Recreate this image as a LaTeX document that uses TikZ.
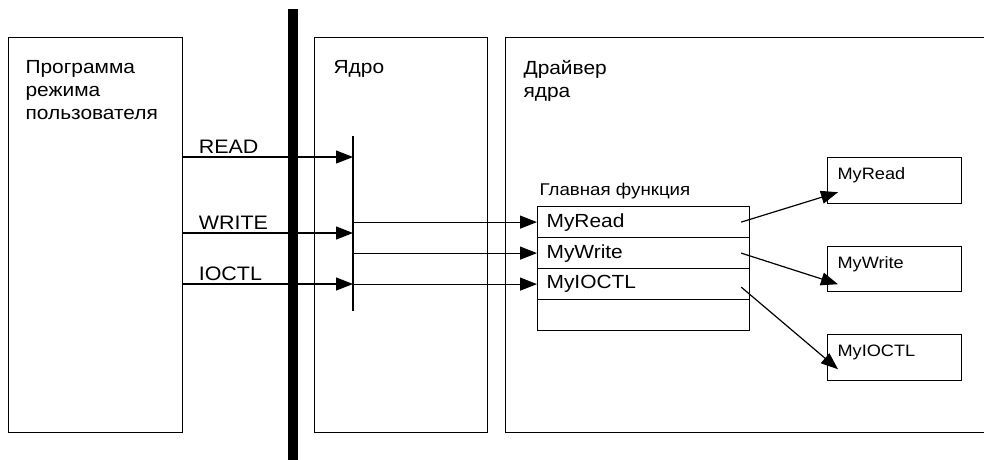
\documentclass[tikz,border=0pt]{standalone}
\usepackage{fontspec}
\setmainfont{Liberation Sans}[FakeStretch=1.1]
\usetikzlibrary{arrows.meta}
\begin{document}
\begin{tikzpicture}[x=1pt,y=-1pt,
  line width=1.2pt,
  frame/.style={draw, anchor=north west, inner sep=0pt},
  heading/.style={anchor=north west, align=left, font=\fontsize{19}{23}\selectfont, inner sep=0pt},
  calllabel/.style={anchor=base west, font=\fontsize{19.5}{22}\selectfont, inner sep=0pt},
  tablerow/.style={draw, anchor=north west, minimum height=31pt, text width=194pt,
    inner xsep=9pt, inner ysep=0pt, align=left, font=\fontsize{19}{22}\selectfont},
  handler/.style={draw, anchor=north west, minimum width=134pt, inner sep=0pt},
  handlertext/.style={anchor=north west, inner sep=0pt, font=\fontsize{16.5}{20}\selectfont, xshift=10pt, yshift=-10pt},
  arr/.style={-{Triangle[length=17pt,width=13pt]}},
]
\useasboundingbox (0,0) rectangle (984,459);
\clip (0,0) rectangle (984,459);

% three columns: user program, kernel, kernel driver
\node[frame, minimum width=174pt, minimum height=395pt] (user) at (8,37) {};
\node[frame, minimum width=173pt, minimum height=395pt] (kernel) at (314,37) {};
\node[frame, minimum width=520pt, minimum height=395pt] (driver) at (505,37) {};

\node[heading] at (25,60) {Программа\\режима\\пользователя};
\node[heading] at (333,60) {Ядро};
\node[heading] at (523,60) {Драйвер\\ядра};

% user/kernel boundary
\node[fill=black, minimum width=10pt, minimum height=452pt, inner sep=0pt, anchor=north] (bar) at (292.5,8) {};

% dispatch line inside the kernel
\coordinate (dtop) at (353,136);
\coordinate (dbot) at (353,311);
\draw (dtop) -- (dbot);
\coordinate (dR) at (353,157);
\coordinate (dW) at (353,233);
\coordinate (dI) at (353,284);

% system calls from the user program
\draw[arr] (user.east |- dR) -- (dR);
\draw[arr] (user.east |- dW) -- (dW);
\draw[arr] (user.east |- dI) -- (dI);
\path (user.east |- dR) ++(15,-4) node[calllabel] {READ};
\path (user.east |- dW) ++(15,-4) node[calllabel] {WRITE};
\path (user.east |- dI) ++(15,-4) node[calllabel] {IOCTL};

% dispatch table of the driver
\node[anchor=base west, inner sep=0pt, font=\fontsize{17}{20}\selectfont] at (539,195) {Главная функция};
\node[tablerow] (t1) at (537,206) {MyRead};
\node[tablerow] (t2) at (537,237) {MyWrite};
\node[tablerow] (t3) at (537,268) {MyIOCTL};
\node[tablerow] (t4) at (537,299) {};

\draw[arr] (dtop |- t1.west) -- (t1.west);
\draw[arr] (dtop |- t2.west) -- (t2.west);
\draw[arr] (dtop |- t3.west) -- (t3.west);

% handler routines
\node[handler, minimum height=46pt, label={[handlertext]north west:MyRead}] (r1) at (827,157) {};
\node[handler, minimum height=45pt, label={[handlertext]north west:MyWrite}] (r2) at (827,246) {};
\node[handler, minimum height=46pt, label={[handlertext]north west:MyIOCTL}] (r3) at (827,334) {};

\draw[arr] ([xshift=-9pt]t1.east) -- ([shift={(11,-12)}]r1.south west);
\draw[arr] ([xshift=-9pt]t2.east) -- ([shift={(11,-8)}]r2.south west);
\draw[arr] ([shift={(-9,3)}]t3.east) -- ([shift={(11,-12)}]r3.south west);
\end{tikzpicture}
\end{document}
